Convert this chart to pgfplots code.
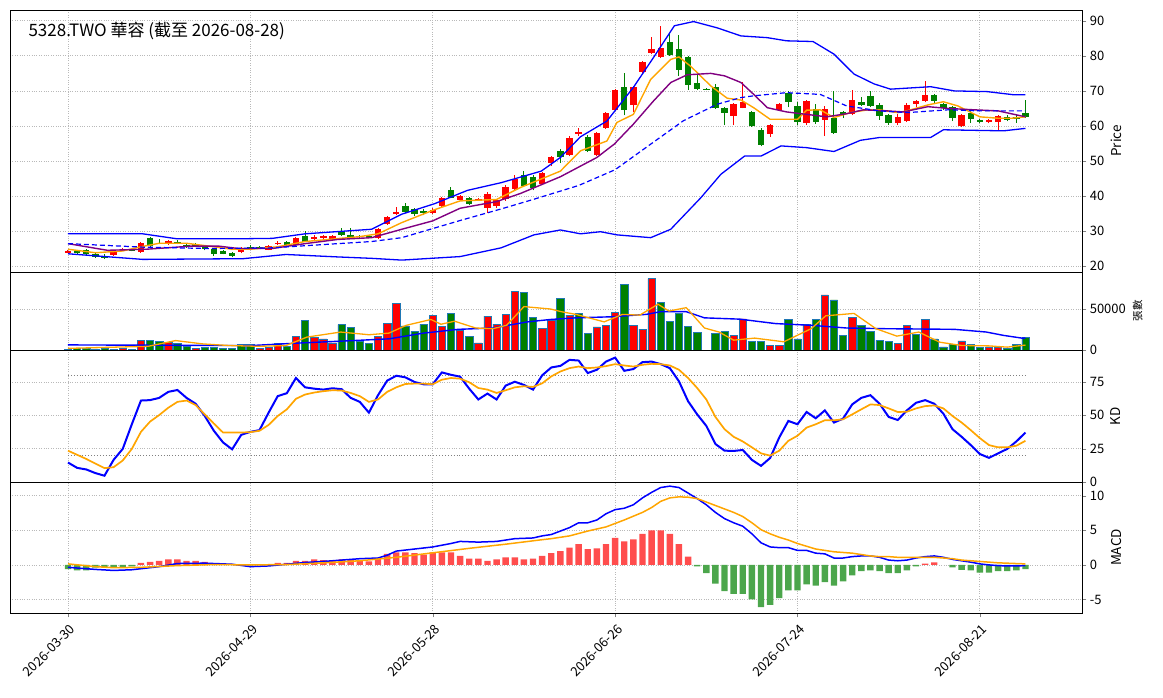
\documentclass[border=0pt]{standalone}
\usepackage{fontspec}
\setmainfont{Noto Sans CJK TC}
\usepackage{pgfplots}
\pgfplotsset{compat=1.18}
\definecolor{myorange}{RGB}{255,165,0}
\definecolor{mypurple}{RGB}{128,0,128}
\definecolor{cred}{RGB}{255,0,0}
\definecolor{cgreen}{RGB}{0,128,0}
\definecolor{hred}{RGB}{255,77,77}
\definecolor{hgreen}{RGB}{76,166,76}
\definecolor{vedge}{RGB}{31,119,180}
\pgfplotsset{
  base/.style={scale only axis, width=1072pt, xmin=-6.36, xmax=111.2,
    xtick={0,20,40,60,80,100}, grid=major,
    major grid style={dotted, gray!55, line width=0.8pt},
    yticklabel pos=right, ylabel near ticks,
    tick align=outside, ytick pos=right, xtick pos=bottom,
    ticklabel style={font=\fontsize{13}{15}\selectfont},
    label style={font=\fontsize{13.5}{15}\selectfont},
    /pgf/number format/assume math mode=true,
    axis line style={line width=0.8pt},
    scaled y ticks=false, anchor=north west},
  noxl/.style={xticklabels={}, xtick style={draw=none}},
}
\begin{document}
\begin{tikzpicture}[x=1pt,y=1pt]
\path[use as bounding box] (0,0) rectangle (1163,-698);
% ---------------- PRICE ----------------
\begin{axis}[base, noxl, at={(10pt,-10pt)}, height=262pt, ymin=18.3, ymax=93.1,
  ytick={20,30,40,50,60,70,80,90}, ylabel={Price}]
\addplot[draw=none, mark=none, error bars/.cd, y dir=plus, y explicit, error mark=none,
  error bar style={draw=cred, line width=1pt}]
  table[x=x, y=l, y error plus expr={\thisrow{h}-\thisrow{l}}] {
x o h l c
0 24.0 24.5 23.7 24.1
5 23.2 24.3 23 24
6 24.4 25.2 24.2 24.6
8 24 26.8 23.8 26.5
11 26.3 27.5 26 27.2
19 24 25.3 23.6 25
22 24.7 26.1 24.5 25.7
23 26.3 27.1 26 26.6
25 26 28.3 25.8 28
27 27.8 29 27.5 28.3
28 28 28.8 27.6 28.5
29 27.5 28.9 27.2 28.5
34 28 30.8 27.8 30.5
35 32 34.3 31.8 34
36 35 36.8 34.5 35.5
40 35.2 36.6 35 35.9
41 37.1 39.6 36.6 39.3
43 38.9 40.3 38.5 40
45 38.9 39.4 38.6 39.1
46 36.7 41.2 35.2 40.7
47 37 39.2 36.7 38.8
48 39 43 38.7 42.6
49 41.9 46 41.6 44.8
52 43.3 46.8 43 46.5
53 49.5 51.5 48.5 51.1
55 51.7 57 51.3 56.6
56 57.8 59.4 57.2 58.2
58 51.7 58.3 51.4 58
59 59.5 64 59.2 63.7
60 64.5 70.6 64.2 70.3
62 66 71.4 64 71.1
63 75.5 78.6 75.2 78.3
64 80.7 85.5 80.4 81.9
65 79.8 88.6 79.5 82.2
73 62.9 66.5 60.2 66.2
74 65.2 72.6 65 66.9
77 57.8 60.6 56.8 60.3
78 64.5 66.5 64.2 66.2
81 60.7 67.4 60.2 67.1
83 61.7 65.7 57.1 64.8
86 63.3 70.3 63 67.4
91 60.7 63.4 60.4 62.6
92 61.4 66.6 61.1 66
93 66.4 67.4 65.3 67.1
94 67 72.7 66.7 68.9
98 60 63.4 59.8 63.1
101 61 62.1 60.7 61.7
102 61 63.2 58.6 62.9
};
\addplot[draw=none, mark=none, error bars/.cd, y dir=both, y explicit, error mark=none,
  error bar style={draw=cred, line width=6.4pt}]
  table[x=x, y expr={(\thisrow{o}+\thisrow{c})/2}, y error expr={max(abs(\thisrow{c}-\thisrow{o})/2,0.15)}] {
x o h l c
0 24.0 24.5 23.7 24.1
5 23.2 24.3 23 24
6 24.4 25.2 24.2 24.6
8 24 26.8 23.8 26.5
11 26.3 27.5 26 27.2
19 24 25.3 23.6 25
22 24.7 26.1 24.5 25.7
23 26.3 27.1 26 26.6
25 26 28.3 25.8 28
27 27.8 29 27.5 28.3
28 28 28.8 27.6 28.5
29 27.5 28.9 27.2 28.5
34 28 30.8 27.8 30.5
35 32 34.3 31.8 34
36 35 36.8 34.5 35.5
40 35.2 36.6 35 35.9
41 37.1 39.6 36.6 39.3
43 38.9 40.3 38.5 40
45 38.9 39.4 38.6 39.1
46 36.7 41.2 35.2 40.7
47 37 39.2 36.7 38.8
48 39 43 38.7 42.6
49 41.9 46 41.6 44.8
52 43.3 46.8 43 46.5
53 49.5 51.5 48.5 51.1
55 51.7 57 51.3 56.6
56 57.8 59.4 57.2 58.2
58 51.7 58.3 51.4 58
59 59.5 64 59.2 63.7
60 64.5 70.6 64.2 70.3
62 66 71.4 64 71.1
63 75.5 78.6 75.2 78.3
64 80.7 85.5 80.4 81.9
65 79.8 88.6 79.5 82.2
73 62.9 66.5 60.2 66.2
74 65.2 72.6 65 66.9
77 57.8 60.6 56.8 60.3
78 64.5 66.5 64.2 66.2
81 60.7 67.4 60.2 67.1
83 61.7 65.7 57.1 64.8
86 63.3 70.3 63 67.4
91 60.7 63.4 60.4 62.6
92 61.4 66.6 61.1 66
93 66.4 67.4 65.3 67.1
94 67 72.7 66.7 68.9
98 60 63.4 59.8 63.1
101 61 62.1 60.7 61.7
102 61 63.2 58.6 62.9
};
\addplot[draw=none, mark=none, error bars/.cd, y dir=plus, y explicit, error mark=none,
  error bar style={draw=cgreen, line width=1pt}]
  table[x=x, y=l, y error plus expr={\thisrow{h}-\thisrow{l}}] {
x o h l c
1 24.3 24.6 23.5 23.8
2 24.5 24.8 23.2 23.5
3 23.5 23.9 22.3 22.6
4 23 23.3 22 22.2
7 24.7 25 24.2 24.5
9 28 28.3 25.5 25.8
10 26.6 27.6 26.2 26.4
12 27 27.3 26.2 26.5
13 26 26.5 25.2 25.5
14 26.3 26.5 25.3 25.6
15 25.5 25.8 24.5 24.8
16 25 25.2 22.8 23.5
17 24.3 24.5 23.3 23.5
18 23.6 23.9 22.5 23
20 25.5 26 24.8 25
21 25.4 25.7 25 25.2
24 26.8 27.1 25.8 26
26 28.5 30 26.8 27
30 30 31 28.7 29
31 29 31 27.8 28
32 28.6 29 28 28.4
33 28.4 28.6 27.9 28.2
37 37 38 35.2 35.5
38 36.2 36.5 34.4 35
39 35.7 36.3 34.5 35.2
42 41.7 42.6 39.3 39.5
44 39.3 39.6 37.4 37.8
50 46 47.2 42.5 42.9
51 45.4 46 41.6 42.2
54 52.8 53.3 49.5 51.2
57 56.9 57.3 52.5 52.9
61 71.1 75 63 64.5
66 84 86.5 80 80.3
67 81.9 86 74.3 75.9
68 79.7 80 70.3 71.6
69 72.4 74.5 70.2 70.5
70 70.6 70.8 70.2 70.4
71 71 72 64.8 65.2
72 65.2 65.5 60.2 63.8
75 64 64.3 59.8 60
76 58.9 59.5 54.2 54.6
79 69.5 69.9 65.3 66.7
80 65.7 66.7 60.2 61
82 64.8 66.4 60.6 61
84 62.2 70 57.8 58.1
85 64 64.3 62.2 63.3
87 66.9 68.3 65.7 66
88 68.6 70 65.4 65.7
89 65.9 66.6 61.8 62.7
90 63.1 63.4 60.4 60.7
95 68.9 69.2 66.2 67
96 66.2 66.5 64.5 65.2
97 65.4 65.7 61.4 62.4
99 63.8 64.2 60.9 62.1
100 61.7 62 60.8 61.2
103 62.6 63 61.3 61.6
104 62.6 63 60.9 61.9
105 63.8 67.3 62.4 62.6
};
\addplot[draw=none, mark=none, error bars/.cd, y dir=both, y explicit, error mark=none,
  error bar style={draw=cgreen, line width=6.4pt}]
  table[x=x, y expr={(\thisrow{o}+\thisrow{c})/2}, y error expr={max(abs(\thisrow{c}-\thisrow{o})/2,0.15)}] {
x o h l c
1 24.3 24.6 23.5 23.8
2 24.5 24.8 23.2 23.5
3 23.5 23.9 22.3 22.6
4 23 23.3 22 22.2
7 24.7 25 24.2 24.5
9 28 28.3 25.5 25.8
10 26.6 27.6 26.2 26.4
12 27 27.3 26.2 26.5
13 26 26.5 25.2 25.5
14 26.3 26.5 25.3 25.6
15 25.5 25.8 24.5 24.8
16 25 25.2 22.8 23.5
17 24.3 24.5 23.3 23.5
18 23.6 23.9 22.5 23
20 25.5 26 24.8 25
21 25.4 25.7 25 25.2
24 26.8 27.1 25.8 26
26 28.5 30 26.8 27
30 30 31 28.7 29
31 29 31 27.8 28
32 28.6 29 28 28.4
33 28.4 28.6 27.9 28.2
37 37 38 35.2 35.5
38 36.2 36.5 34.4 35
39 35.7 36.3 34.5 35.2
42 41.7 42.6 39.3 39.5
44 39.3 39.6 37.4 37.8
50 46 47.2 42.5 42.9
51 45.4 46 41.6 42.2
54 52.8 53.3 49.5 51.2
57 56.9 57.3 52.5 52.9
61 71.1 75 63 64.5
66 84 86.5 80 80.3
67 81.9 86 74.3 75.9
68 79.7 80 70.3 71.6
69 72.4 74.5 70.2 70.5
70 70.6 70.8 70.2 70.4
71 71 72 64.8 65.2
72 65.2 65.5 60.2 63.8
75 64 64.3 59.8 60
76 58.9 59.5 54.2 54.6
79 69.5 69.9 65.3 66.7
80 65.7 66.7 60.2 61
82 64.8 66.4 60.6 61
84 62.2 70 57.8 58.1
85 64 64.3 62.2 63.3
87 66.9 68.3 65.7 66
88 68.6 70 65.4 65.7
89 65.9 66.6 61.8 62.7
90 63.1 63.4 60.4 60.7
95 68.9 69.2 66.2 67
96 66.2 66.5 64.5 65.2
97 65.4 65.7 61.4 62.4
99 63.8 64.2 60.9 62.1
100 61.7 62 60.8 61.2
103 62.6 63 61.3 61.6
104 62.6 63 60.9 61.9
105 63.8 67.3 62.4 62.6
};
\addplot[myorange, line width=1.4pt] coordinates {(0,24.8)(3,23.8)(6,24.3)(8,25.5)(10,26.5)(13,26.5)(16,25.5)(18,24.8)(20,24.8)(23,25.5)(26,27)(29,27.7)(32,28.4)(34,29.2)(36.6,32.4)(40,35.9)(43,38.6)(47,39)(49.6,42.4)(54,47.1)(56.2,52.9)(59.1,55.7)(60.2,61)(62,63.3)(63.9,73.3)(66.1,79)(67,79.7)(68.3,77)(70.5,71.4)(72.3,67.9)(73.8,67.4)(75.2,65.2)(77,61.9)(80,61.9)(81,64.5)(82.5,64.6)(84,62.4)(85.8,63.8)(87.7,64.6)(89,64.6)(91,63.8)(92,64.3)(94.3,66)(96,66.9)(97.6,65.7)(100,62.6)(102,62.2)(103.5,62.2)(105,62.6)};
\addplot[mypurple, line width=1.4pt] coordinates {(0,26.4)(4.3,24.5)(8.6,24.8)(13.6,25.7)(16.5,25.7)(18.7,25)(22.4,25)(26,26.4)(29.6,27.6)(33.3,28.1)(36.6,30.5)(40,32.9)(43,36.5)(47,38.4)(49.6,40.7)(54,45.5)(58,51)(59.9,54.8)(62,60.5)(64.2,67.1)(66.1,72.4)(67.9,74.6)(70.5,75)(72,74.3)(73.8,72.4)(75.2,69)(76.7,65.2)(78.8,64)(81,63.3)(83.2,62.6)(85.4,63.5)(87.2,64.6)(89.8,64.3)(91.6,64)(94.3,65.5)(96.5,65)(99.4,64.6)(102,64.3)(105,62.6)};
\addplot[blue, dash pattern=on 5pt off 3pt, line width=1.2pt] coordinates {(0,26.4)(8.2,25.4)(15.5,25)(22.4,25.2)(29.6,26.4)(33.3,27)(36.6,28.1)(43,33)(47.5,36.3)(51,39)(56,43)(60,47.5)(63.9,54.8)(67.5,61.5)(71.2,66.2)(73.8,68.1)(75.2,68.6)(78.8,69.5)(82.5,69)(85.4,65.7)(89,64.3)(92,63.8)(96.5,64.6)(100,64.3)(105,64.3)};
\addplot[blue, line width=1.3pt] coordinates {(0,29.2)(8.2,29.2)(11.9,27.8)(19.2,27.8)(22.4,27.9)(26,29.2)(33.3,30.5)(36.6,34.8)(40.2,37.8)(43.8,41.6)(47.5,43.8)(51.9,47.1)(54,51)(56.2,56.9)(59.1,61.4)(62,71)(64.2,79.5)(66.5,88.6)(68.6,89.8)(71.2,88)(73.8,85.7)(76.7,85.2)(78.8,84.3)(81.7,84.1)(84,80.5)(86.2,74.8)(88.4,72)(90.2,70.5)(94.6,71.2)(97.2,70)(100.8,69.8)(103.7,68.9)(105,68.9)};
\addplot[blue, line width=1.3pt] coordinates {(0,23.5)(8.2,21.9)(19.2,22.1)(23.9,23.3)(29.6,22.6)(33.3,22.2)(36.6,21.7)(43,22.7)(47.5,25.2)(51.1,28.9)(54,30.3)(56.2,29.2)(58.4,29.8)(60.2,28.9)(63.9,28.1)(66.1,30.5)(69.4,39.5)(71.6,46.2)(74.2,51.4)(76,51.4)(78.2,54.3)(81,53.8)(84,52.7)(86.9,55.9)(89,56.7)(94.6,56.7)(96,58.9)(102.6,58.6)(105,59.3)};
\end{axis}
\node[anchor=west, font=\fontsize{17}{19}\selectfont] at (25,-31) {5328.TWO 華容 (截至 2026-08-28)};
% ---------------- VOLUME ----------------
\begin{axis}[base, noxl, at={(10pt,-272pt)}, height=78pt, ymin=0, ymax=95100,
  ytick={0,50000}, yticklabels={0,50000}, ylabel={張數},
  ylabel style={font=\fontsize{10.5}{12}\selectfont}]
\addplot[ybar, bar width=7.3pt, bar shift=0pt, fill=cred, draw=vedge, line width=0.6pt] coordinates {
(0,1000)(5,1000)(6,1500)(8,11500)(11,9500)(14,2000)(21,1500)(22,3000)(23,7800)(25,16500)(27,15300)(28,13600)(29,8700)(34,16500)(35,32600)(36,57000)(40,42500)(41,28900)(43,24000)(45,8700)(46,41300)(47,31400)(48,43800)(49,71100)(52,26800)(53,36300)(55,42500)(58,28100)(59,30100)(60,45800)(62,30100)(63,25200)(64,87100)(73,17800)(74,38000)(77,5400)(78,5400)(81,31400)(83,67300)(86,39900)(91,7800)(92,30100)(94,37600)(98,11200)(101,3700)(102,3700)};
\addplot[ybar, bar width=7.3pt, bar shift=0pt, fill=cgreen, draw=vedge, line width=0.6pt] coordinates {
(1,1500)(2,1500)(3,1000)(4,1500)(7,1000)(9,11500)(10,10300)(12,8300)(13,4500)(15,3300)(16,2900)(17,2000)(18,2000)(19,6600)(20,6600)(24,4500)(26,36000)(30,31000)(31,27300)(32,10300)(33,7900)(37,29300)(38,22700)(39,31400)(42,45000)(44,16500)(50,69800)(51,39600)(54,63200)(56,44600)(57,19800)(61,79700)(65,58200)(66,35100)(67,44600)(68,28900)(69,21000)(71,20200)(72,22700)(75,10300)(76,10300)(79,37600)(80,13600)(82,37600)(84,61100)(85,17800)(87,30100)(88,22700)(89,11600)(90,10300)(93,18600)(95,13600)(96,3700)(97,6600)(99,6600)(100,2900)(103,2100)(104,7000)(105,15300)};
\addplot[blue, line width=1.4pt] coordinates {(0,6200)(20,5400)(25,8300)(31.5,11600)(35.2,13600)(39,20600)(42.8,25200)(46.6,26800)(50.4,34300)(52.9,37200)(55.7,39200)(59.6,40500)(63.4,43400)(65,46700)(67.8,46700)(69.8,39200)(73.7,37600)(77.6,32200)(81.5,30100)(85.4,26800)(89.3,26000)(97.2,25200)(100.7,21900)(102.6,17800)(104.6,14500)(105,14500)};
\addplot[myorange, line width=1.3pt] coordinates {(0,2000)(8.8,4500)(11.8,11500)(14.8,7400)(17.8,5400)(20.9,4500)(23.9,5400)(26.2,15700)(29.9,21900)(33,18600)(35.2,20600)(37.1,30100)(39.8,37200)(40.9,31400)(42.4,35100)(44.7,26800)(46.6,26000)(48.1,30100)(50,52900)(52.9,50000)(54.1,46700)(55.7,43400)(58.8,34300)(60.8,43400)(62.7,42500)(64.7,55800)(65.9,47500)(67.8,51600)(69.8,26800)(71.4,21900)(73,12000)(75.3,14500)(78.5,10000)(81.5,26000)(83.1,41700)(86.2,44600)(88.6,26000)(90.9,16900)(93.3,21900)(95.6,9500)(98,5500)(101,5000)(103,3500)(105,6000)};
\end{axis}
% ---------------- KD ----------------
\begin{axis}[base, noxl, at={(10pt,-350pt)}, height=132pt, ymin=0, ymax=99,
  ytick={0,25,50,75}, ylabel={KD}]
\addplot[gray, dotted, line width=0.9pt] coordinates {(0,80)(105,80)};
\addplot[gray, dotted, line width=0.9pt] coordinates {(0,20)(105,20)};
\addplot[blue, line width=2pt] coordinates {(0,14.6)(1,10.6)(2,9.4)(3,6.7)(4,4.7)(5,16.6)(6,24.8)(7,43.3)(8,61.1)(9,61.4)(10,63.1)(11,67.6)(12,69)(13,63.1)(14,58.7)(15,49.5)(16,38.4)(17,29.7)(18,24.5)(19,35.4)(20,37.6)(21,38.9)(22,52)(23,64.4)(24,66.6)(25,78)(26,71)(27,70)(28,69.3)(29,70.3)(30,69.6)(31,63.1)(32,60.1)(33,52)(34,65.1)(35,76)(36,79.7)(37,78.5)(38,75)(39,73.3)(40,73.3)(41,82.2)(42,80.4)(43,79)(44,70)(45,61.9)(46,66.3)(47,61.9)(48,72.3)(49,75.2)(50,72.8)(51,69.3)(52,80)(53,85.9)(54,87.1)(55,91.6)(56,91.1)(57,81.7)(58,84.2)(59,90.3)(60,93.3)(61,83.4)(62,84.7)(63,89.9)(64,90.3)(65,88.4)(66,85.4)(67,75.5)(68,60.6)(69,50.7)(70,42.1)(71,28.5)(72,23.5)(73,23.3)(74,24)(75,16.6)(76,12.1)(77,18)(78,33.4)(79,45.8)(80,43.3)(81,52.5)(82,47.8)(83,53.7)(84,44.6)(85,47.5)(86,58.2)(87,63.1)(88,65.1)(89,58.7)(90,48.8)(91,46.5)(92,53.7)(93,59.4)(94,61.4)(95,58.7)(96,51.2)(97,39.6)(98,33.9)(99,27.7)(100,21)(101,18.1)(102,21.5)(103,24.8)(104,30.4)(105,37.1)};
\addplot[myorange, line width=1.7pt] coordinates {(0,23.5)(2,17.3)(4,10.4)(5,11.1)(6,16.1)(7,24.8)(8,37.6)(9,45.3)(10,50.2)(11,55.7)(12,60.1)(13,61.1)(14,57.7)(15,50.7)(16,43.8)(17,37.1)(18,37.1)(19,37.1)(20,37.4)(21,38.4)(22,42.8)(23,49.5)(24,54.5)(25,62.4)(26,65.6)(27,67.1)(28,68.1)(29,68.8)(30,68.6)(31,66.8)(32,64.4)(33,60.1)(34,61.9)(35,67.6)(36,71)(37,73.5)(38,73.8)(39,73.8)(40,73.3)(41,76.7)(42,78)(43,77.5)(44,74.8)(45,70.5)(46,69.3)(47,66.8)(48,68.8)(49,71)(50,71.8)(51,71.3)(52,74)(53,79.2)(54,82.9)(55,85.4)(56,86.6)(57,85.4)(58,85.9)(59,86.9)(60,88.4)(61,87.4)(62,86.6)(63,87.9)(64,88.6)(65,88.4)(66,87.4)(67,84.2)(68,78)(69,70.5)(70,61.9)(71,48.8)(72,39.6)(73,33.9)(74,30.4)(75,26)(76,21.5)(77,19.8)(78,23.5)(79,30.9)(80,34.7)(81,40.8)(82,43.3)(83,46.3)(84,46.3)(85,47)(86,50.7)(87,54.5)(88,58.2)(89,57.7)(90,55.2)(91,52.5)(92,52.7)(93,55.2)(94,56.9)(95,57.4)(96,55.2)(97,49.5)(98,44.6)(99,38.9)(100,32.9)(101,27.7)(102,26)(103,26)(104,27.2)(105,30.9)};
\end{axis}
% ---------------- MACD ----------------
\begin{axis}[base, at={(10pt,-482pt)}, height=131pt, ymin=-6.96, ymax=12,
  ytick={-5,0,5,10}, ylabel={MACD},
  xticklabels={2026-03-30,2026-04-29,2026-05-28,2026-06-26,2026-07-24,2026-08-21},
  xticklabel style={rotate=45, anchor=north east, yshift=-2pt}]
\addplot[ybar, bar width=6.4pt, bar shift=0pt, fill=hred, draw=none] coordinates {
(8,0.3)(9,0.45)(10,0.6)(11,0.8)(12,0.8)(13,0.6)(14,0.6)(15,0.45)(16,0.1)(17,0.05)(21,0.05)(22,0.1)(23,0.3)(24,0.3)(25,0.6)(26,0.6)(27,0.8)(28,0.7)(29,0.7)(30,0.8)(31,0.8)(32,0.6)(33,0.5)(34,0.9)(35,1.6)(36,1.8)(37,1.8)(38,1.7)(39,1.5)(40,1.8)(41,1.8)(42,1.8)(43,1.3)(44,0.9)(45,0.9)(46,0.6)(47,0.8)(48,1.1)(49,1.1)(50,0.8)(51,0.9)(52,1.3)(53,1.7)(54,2.0)(55,2.5)(56,3.0)(57,2.3)(58,2.4)(59,3.0)(60,3.9)(61,3.4)(62,3.7)(63,4.5)(64,5.0)(65,5.0)(66,4.5)(67,3.0)(68,1.2)(94,0.2)(95,0.35)};
\addplot[ybar, bar width=6.4pt, bar shift=0pt, fill=hgreen, draw=none] coordinates {
(0,-0.6)(1,-0.8)(2,-0.8)(3,-0.4)(4,-0.4)(5,-0.4)(6,-0.3)(7,-0.2)(19,-0.05)(20,-0.05)(69,-0.2)(70,-1.2)(71,-2.7)(72,-3.8)(73,-4.2)(74,-4.2)(75,-5.0)(76,-6.1)(77,-5.8)(78,-4.8)(79,-3.7)(80,-3.7)(81,-2.8)(82,-3.0)(83,-2.5)(84,-3.0)(85,-2.4)(86,-1.5)(87,-0.9)(88,-0.8)(89,-0.9)(90,-1.2)(91,-1.2)(92,-0.8)(93,-0.2)(97,-0.35)(98,-0.7)(99,-0.8)(100,-1.1)(101,-1.1)(102,-0.9)(103,-0.9)(104,-0.8)(105,-0.6)};
\addplot[blue, line width=1.5pt] coordinates {(0,-0.35)(3,-0.65)(5,-0.8)(7,-0.7)(10,-0.25)(12,0.2)(15,0.25)(18,0.1)(20,-0.25)(22,-0.15)(24,0.1)(26,0.35)(28,0.5)(30,0.7)(32,0.9)(34,1.0)(35,1.4)(36,2.0)(38,2.3)(40,2.6)(42,3.1)(43,3.4)(45,3.3)(47,3.4)(49,3.8)(51,3.9)(52,4.2)(53,4.4)(54,4.9)(55,5.4)(56,6.1)(57,6.1)(58,6.5)(59,7.4)(60,8.0)(61,8.2)(62,8.7)(63,9.7)(64,10.5)(65,11.2)(66,11.4)(67,11.2)(68,10.4)(69,9.6)(70,8.7)(71,7.6)(72,6.7)(73,6.1)(74,5.6)(75,4.5)(76,3.2)(77,2.6)(78,2.5)(79,2.5)(80,2.1)(81,2.1)(82,1.7)(83,1.6)(84,1.0)(85,1.0)(86,1.2)(87,1.3)(88,1.3)(89,1.1)(90,0.7)(91,0.6)(92,0.7)(93,1.0)(94,1.2)(95,1.3)(96,1.1)(97,0.8)(98,0.6)(99,0.4)(100,0.15)(101,0)(102,-0.1)(103,-0.15)(104,-0.15)(105,-0.1)};
\addplot[myorange, line width=1.5pt] coordinates {(0,0.15)(3,-0.25)(5,-0.4)(8,-0.35)(12,-0.1)(16,0.05)(20,0)(24,0.05)(28,0.3)(32,0.6)(36,1.1)(40,1.75)(44,2.4)(48,3.0)(52,3.65)(53,3.8)(55,4.2)(57,4.9)(59,5.5)(61,6.5)(63,7.6)(64,8.3)(65,9.2)(66,9.7)(67,9.85)(68,9.8)(69,9.6)(70,9.1)(71,8.6)(72,8.1)(73,7.6)(74,7.0)(75,6.1)(76,5.1)(77,4.5)(78,4.0)(79,3.6)(80,3.1)(81,2.7)(82,2.3)(83,2.1)(84,1.9)(85,1.8)(86,1.7)(87,1.5)(88,1.3)(89,1.2)(90,1.2)(91,1.1)(92,1.1)(93,1.1)(94,1.1)(95,1.1)(96,1.0)(97,0.9)(98,0.7)(99,0.6)(100,0.5)(101,0.4)(102,0.3)(103,0.25)(104,0.2)(105,0.15)};
\end{axis}
\end{tikzpicture}
\end{document}
